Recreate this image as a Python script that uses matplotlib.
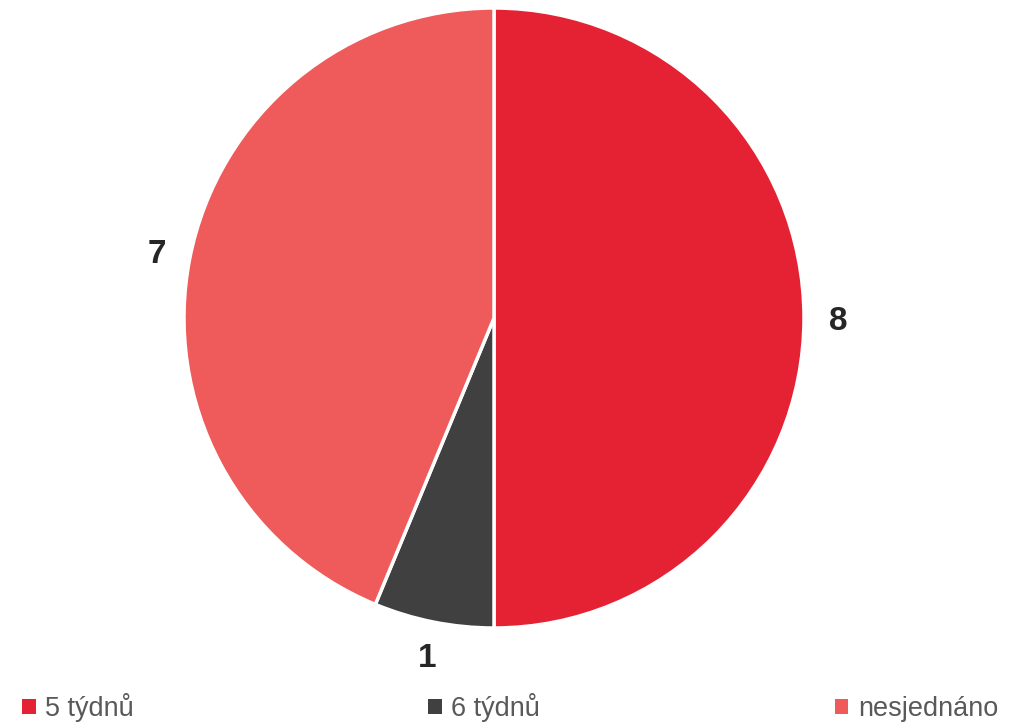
import matplotlib.pyplot as plt
from matplotlib.patches import Patch

labels = ['5 týdnů', '6 týdnů', 'nesjednáno']
values = [8, 1, 7]
colors = ['#E42234', '#404040', '#EF5A5A']

plt.rcParams['font.family'] = ['Liberation Sans', 'DejaVu Sans']

W, H = 1009, 726
fig = plt.figure(figsize=(W / 100, H / 100), dpi=100)

# pie centre and radius in pixels
cx, cy, r = 494, 318, 310
ax = fig.add_axes([(cx - r) / W, (H - cy - r) / H, 2 * r / W, 2 * r / H])

wedges, texts = ax.pie(values, colors=colors, startangle=90, counterclock=False,
                       labels=[str(v) for v in values], labeldistance=1.11,
                       wedgeprops=dict(edgecolor='white', linewidth=2.5))
for t in texts:
    t.set_fontsize(24)
    t.set_fontweight('bold')
    t.set_color('#262626')
    t.set_ha('center')
    t.set_va('center_baseline')
ax.set_xlim(-1, 1)
ax.set_ylim(-1, 1)
ax.set_aspect('equal')

handles = [Patch(facecolor=c, edgecolor='none') for c in colors]
fig.legend(handles, labels, loc='lower left', ncol=3, mode='expand',
           bbox_to_anchor=(22 / W, 4 / H, (998 - 22) / W, 30 / H),
           frameon=False, fontsize=19.5, labelcolor='#595959',
           handlelength=0.5, handleheight=0.5, handletextpad=0.35,
           borderaxespad=0, borderpad=0)

fig.savefig('out.png', dpi=100)
